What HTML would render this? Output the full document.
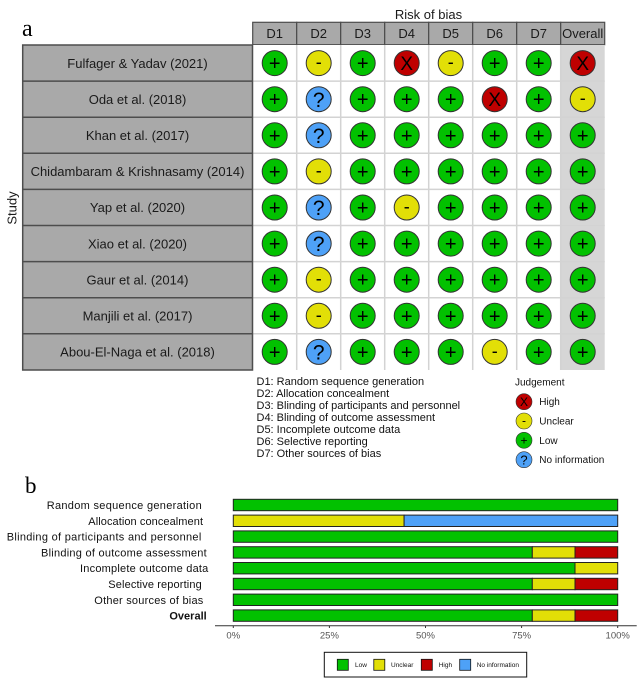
<!DOCTYPE html>
<html><head><meta charset="utf-8"><style>
html,body{margin:0;padding:0;background:#fff;}
svg{display:block;}
text{font-family:"Liberation Sans",sans-serif;}
.g{fill:#02C100;stroke:#333;stroke-width:1}
.y{fill:#E2DF07;stroke:#333;stroke-width:1}
.r{fill:#BF0000;stroke:#333;stroke-width:1}
.b{fill:#4EA1F7;stroke:#333;stroke-width:1}
.p{font-size:20px;text-anchor:middle;fill:#000}
.x{font-size:19px;text-anchor:middle;fill:#000}
.q{font-size:21px;text-anchor:middle;fill:#000}
.m{font-size:18px;text-anchor:middle;fill:#000}
.st{font-size:13px;text-anchor:middle;fill:#1a1a1a}
.hd{font-size:13px;text-anchor:middle;fill:#1a1a1a}
.lg{font-size:11px;fill:#111}
.jl{font-size:10px;fill:#111}
.bl{font-size:11px;text-anchor:end;fill:#111}
.tk{font-size:9.5px;text-anchor:middle;fill:#555}
.kl{font-size:6.5px;fill:#111}
</style></head><body>
<svg width="643" height="683" viewBox="0 0 643 683" xmlns="http://www.w3.org/2000/svg">
<rect width="643" height="683" fill="#fff"/>
<!-- Panel a -->
<text x="22" y="36" style="font-family:'Liberation Serif',serif;font-size:24px" fill="#000">a</text>
<text x="428.5" y="19" style="font-size:13px" text-anchor="middle" fill="#1a1a1a">Risk of bias</text>
<!-- header cells -->
<g fill="#a9a9a9" stroke="#4d4d4d" stroke-width="1.2">
<rect x="252.7" y="22.3" width="44" height="22.4"/>
<rect x="296.7" y="22.3" width="44" height="22.4"/>
<rect x="340.7" y="22.3" width="44" height="22.4"/>
<rect x="384.7" y="22.3" width="44" height="22.4"/>
<rect x="428.7" y="22.3" width="44" height="22.4"/>
<rect x="472.7" y="22.3" width="44" height="22.4"/>
<rect x="516.7" y="22.3" width="44" height="22.4"/>
<rect x="560.7" y="22.3" width="44" height="22.4"/>
</g>
<text class="hd" x="274.7" y="38">D1</text>
<text class="hd" x="318.7" y="38">D2</text>
<text class="hd" x="362.7" y="38">D3</text>
<text class="hd" x="406.7" y="38">D4</text>
<text class="hd" x="450.7" y="38">D5</text>
<text class="hd" x="494.7" y="38">D6</text>
<text class="hd" x="538.7" y="38">D7</text>
<text class="hd" x="582.7" y="38">Overall</text>
<!-- body -->
<rect x="252.7" y="45" width="308" height="325" fill="#fff"/>
<rect x="560.7" y="45" width="44" height="325" fill="#d6d6d6"/>
<g stroke="#d3d3d3" stroke-width="1.5">
<line x1="296.7" y1="45" x2="296.7" y2="370"/>
<line x1="340.7" y1="45" x2="340.7" y2="370"/>
<line x1="384.7" y1="45" x2="384.7" y2="370"/>
<line x1="428.7" y1="45" x2="428.7" y2="370"/>
<line x1="472.7" y1="45" x2="472.7" y2="370"/>
<line x1="516.7" y1="45" x2="516.7" y2="370"/>
<line x1="560.7" y1="45" x2="560.7" y2="370"/>
<line x1="252.7" y1="81.1" x2="604.7" y2="81.1"/>
<line x1="252.7" y1="117.2" x2="604.7" y2="117.2"/>
<line x1="252.7" y1="153.3" x2="604.7" y2="153.3"/>
<line x1="252.7" y1="189.4" x2="604.7" y2="189.4"/>
<line x1="252.7" y1="225.5" x2="604.7" y2="225.5"/>
<line x1="252.7" y1="261.6" x2="604.7" y2="261.6"/>
<line x1="252.7" y1="297.7" x2="604.7" y2="297.7"/>
<line x1="252.7" y1="333.8" x2="604.7" y2="333.8"/>
</g>
<!-- study column -->
<rect x="22.7" y="45" width="229.8" height="325" fill="#a9a9a9" stroke="#4d4d4d" stroke-width="1.5"/>
<g stroke="#4d4d4d" stroke-width="1.5">
<line x1="22.7" y1="81.1" x2="252.5" y2="81.1"/>
<line x1="22.7" y1="117.2" x2="252.5" y2="117.2"/>
<line x1="22.7" y1="153.3" x2="252.5" y2="153.3"/>
<line x1="22.7" y1="189.4" x2="252.5" y2="189.4"/>
<line x1="22.7" y1="225.5" x2="252.5" y2="225.5"/>
<line x1="22.7" y1="261.6" x2="252.5" y2="261.6"/>
<line x1="22.7" y1="297.7" x2="252.5" y2="297.7"/>
<line x1="22.7" y1="333.8" x2="252.5" y2="333.8"/>
</g>
<text class="st" x="137.5" y="67.8">Fulfager &amp; Yadav (2021)</text>
<text class="st" x="137.5" y="103.9">Oda et al. (2018)</text>
<text class="st" x="137.5" y="140">Khan et al. (2017)</text>
<text class="st" x="137.5" y="176.1">Chidambaram &amp; Krishnasamy (2014)</text>
<text class="st" x="137.5" y="212.2">Yap et al. (2020)</text>
<text class="st" x="137.5" y="248.3">Xiao et al. (2020)</text>
<text class="st" x="137.5" y="284.4">Gaur et al. (2014)</text>
<text class="st" x="137.5" y="320.5">Manjili et al. (2017)</text>
<text class="st" x="137.5" y="356.6">Abou-El-Naga et al. (2018)</text>
<text x="0" y="0" transform="translate(16.5,208) rotate(-90)" style="font-size:13px" text-anchor="middle" fill="#1a1a1a">Study</text>

<!-- Row 0: G Y G R Y G G R -->
<circle class="g" cx="274.7" cy="63.1" r="12.5"/><text class="p" x="274.7" y="70.1">+</text>
<circle class="y" cx="318.7" cy="63.1" r="12.5"/><text class="m" x="318.7" y="68.1">-</text>
<circle class="g" cx="362.7" cy="63.1" r="12.5"/><text class="p" x="362.7" y="70.1">+</text>
<circle class="r" cx="406.7" cy="63.1" r="12.5"/><text class="x" x="406.7" y="69.9">X</text>
<circle class="y" cx="450.7" cy="63.1" r="12.5"/><text class="m" x="450.7" y="68.1">-</text>
<circle class="g" cx="494.7" cy="63.1" r="12.5"/><text class="p" x="494.7" y="70.1">+</text>
<circle class="g" cx="538.7" cy="63.1" r="12.5"/><text class="p" x="538.7" y="70.1">+</text>
<circle class="r" cx="582.7" cy="63.1" r="12.5"/><text class="x" x="582.7" y="69.9">X</text>
<!-- Row 1: G B G G G R G Y -->
<circle class="g" cx="274.7" cy="99.2" r="12.5"/><text class="p" x="274.7" y="106.2">+</text>
<circle class="b" cx="318.7" cy="99.2" r="12.5"/><text class="q" x="318.7" y="106.8">?</text>
<circle class="g" cx="362.7" cy="99.2" r="12.5"/><text class="p" x="362.7" y="106.2">+</text>
<circle class="g" cx="406.7" cy="99.2" r="12.5"/><text class="p" x="406.7" y="106.2">+</text>
<circle class="g" cx="450.7" cy="99.2" r="12.5"/><text class="p" x="450.7" y="106.2">+</text>
<circle class="r" cx="494.7" cy="99.2" r="12.5"/><text class="x" x="494.7" y="106">X</text>
<circle class="g" cx="538.7" cy="99.2" r="12.5"/><text class="p" x="538.7" y="106.2">+</text>
<circle class="y" cx="582.7" cy="99.2" r="12.5"/><text class="m" x="582.7" y="104.2">-</text>
<!-- Row 2: G B G G G G G G -->
<circle class="g" cx="274.7" cy="135.3" r="12.5"/><text class="p" x="274.7" y="142.3">+</text>
<circle class="b" cx="318.7" cy="135.3" r="12.5"/><text class="q" x="318.7" y="142.9">?</text>
<circle class="g" cx="362.7" cy="135.3" r="12.5"/><text class="p" x="362.7" y="142.3">+</text>
<circle class="g" cx="406.7" cy="135.3" r="12.5"/><text class="p" x="406.7" y="142.3">+</text>
<circle class="g" cx="450.7" cy="135.3" r="12.5"/><text class="p" x="450.7" y="142.3">+</text>
<circle class="g" cx="494.7" cy="135.3" r="12.5"/><text class="p" x="494.7" y="142.3">+</text>
<circle class="g" cx="538.7" cy="135.3" r="12.5"/><text class="p" x="538.7" y="142.3">+</text>
<circle class="g" cx="582.7" cy="135.3" r="12.5"/><text class="p" x="582.7" y="142.3">+</text>
<!-- Row 3: G Y G G G G G G -->
<circle class="g" cx="274.7" cy="171.4" r="12.5"/><text class="p" x="274.7" y="178.4">+</text>
<circle class="y" cx="318.7" cy="171.4" r="12.5"/><text class="m" x="318.7" y="176.4">-</text>
<circle class="g" cx="362.7" cy="171.4" r="12.5"/><text class="p" x="362.7" y="178.4">+</text>
<circle class="g" cx="406.7" cy="171.4" r="12.5"/><text class="p" x="406.7" y="178.4">+</text>
<circle class="g" cx="450.7" cy="171.4" r="12.5"/><text class="p" x="450.7" y="178.4">+</text>
<circle class="g" cx="494.7" cy="171.4" r="12.5"/><text class="p" x="494.7" y="178.4">+</text>
<circle class="g" cx="538.7" cy="171.4" r="12.5"/><text class="p" x="538.7" y="178.4">+</text>
<circle class="g" cx="582.7" cy="171.4" r="12.5"/><text class="p" x="582.7" y="178.4">+</text>
<!-- Row 4: G B G Y G G G G -->
<circle class="g" cx="274.7" cy="207.5" r="12.5"/><text class="p" x="274.7" y="214.5">+</text>
<circle class="b" cx="318.7" cy="207.5" r="12.5"/><text class="q" x="318.7" y="215.1">?</text>
<circle class="g" cx="362.7" cy="207.5" r="12.5"/><text class="p" x="362.7" y="214.5">+</text>
<circle class="y" cx="406.7" cy="207.5" r="12.5"/><text class="m" x="406.7" y="212.5">-</text>
<circle class="g" cx="450.7" cy="207.5" r="12.5"/><text class="p" x="450.7" y="214.5">+</text>
<circle class="g" cx="494.7" cy="207.5" r="12.5"/><text class="p" x="494.7" y="214.5">+</text>
<circle class="g" cx="538.7" cy="207.5" r="12.5"/><text class="p" x="538.7" y="214.5">+</text>
<circle class="g" cx="582.7" cy="207.5" r="12.5"/><text class="p" x="582.7" y="214.5">+</text>
<!-- Row 5: G B G G G G G G -->
<circle class="g" cx="274.7" cy="243.6" r="12.5"/><text class="p" x="274.7" y="250.6">+</text>
<circle class="b" cx="318.7" cy="243.6" r="12.5"/><text class="q" x="318.7" y="251.2">?</text>
<circle class="g" cx="362.7" cy="243.6" r="12.5"/><text class="p" x="362.7" y="250.6">+</text>
<circle class="g" cx="406.7" cy="243.6" r="12.5"/><text class="p" x="406.7" y="250.6">+</text>
<circle class="g" cx="450.7" cy="243.6" r="12.5"/><text class="p" x="450.7" y="250.6">+</text>
<circle class="g" cx="494.7" cy="243.6" r="12.5"/><text class="p" x="494.7" y="250.6">+</text>
<circle class="g" cx="538.7" cy="243.6" r="12.5"/><text class="p" x="538.7" y="250.6">+</text>
<circle class="g" cx="582.7" cy="243.6" r="12.5"/><text class="p" x="582.7" y="250.6">+</text>
<!-- Row 6: G Y G G G G G G -->
<circle class="g" cx="274.7" cy="279.7" r="12.5"/><text class="p" x="274.7" y="286.7">+</text>
<circle class="y" cx="318.7" cy="279.7" r="12.5"/><text class="m" x="318.7" y="284.7">-</text>
<circle class="g" cx="362.7" cy="279.7" r="12.5"/><text class="p" x="362.7" y="286.7">+</text>
<circle class="g" cx="406.7" cy="279.7" r="12.5"/><text class="p" x="406.7" y="286.7">+</text>
<circle class="g" cx="450.7" cy="279.7" r="12.5"/><text class="p" x="450.7" y="286.7">+</text>
<circle class="g" cx="494.7" cy="279.7" r="12.5"/><text class="p" x="494.7" y="286.7">+</text>
<circle class="g" cx="538.7" cy="279.7" r="12.5"/><text class="p" x="538.7" y="286.7">+</text>
<circle class="g" cx="582.7" cy="279.7" r="12.5"/><text class="p" x="582.7" y="286.7">+</text>
<!-- Row 7: G Y G G G G G G -->
<circle class="g" cx="274.7" cy="315.8" r="12.5"/><text class="p" x="274.7" y="322.8">+</text>
<circle class="y" cx="318.7" cy="315.8" r="12.5"/><text class="m" x="318.7" y="320.8">-</text>
<circle class="g" cx="362.7" cy="315.8" r="12.5"/><text class="p" x="362.7" y="322.8">+</text>
<circle class="g" cx="406.7" cy="315.8" r="12.5"/><text class="p" x="406.7" y="322.8">+</text>
<circle class="g" cx="450.7" cy="315.8" r="12.5"/><text class="p" x="450.7" y="322.8">+</text>
<circle class="g" cx="494.7" cy="315.8" r="12.5"/><text class="p" x="494.7" y="322.8">+</text>
<circle class="g" cx="538.7" cy="315.8" r="12.5"/><text class="p" x="538.7" y="322.8">+</text>
<circle class="g" cx="582.7" cy="315.8" r="12.5"/><text class="p" x="582.7" y="322.8">+</text>
<!-- Row 8: G B G G G Y G G -->
<circle class="g" cx="274.7" cy="351.9" r="12.5"/><text class="p" x="274.7" y="358.9">+</text>
<circle class="b" cx="318.7" cy="351.9" r="12.5"/><text class="q" x="318.7" y="359.5">?</text>
<circle class="g" cx="362.7" cy="351.9" r="12.5"/><text class="p" x="362.7" y="358.9">+</text>
<circle class="g" cx="406.7" cy="351.9" r="12.5"/><text class="p" x="406.7" y="358.9">+</text>
<circle class="g" cx="450.7" cy="351.9" r="12.5"/><text class="p" x="450.7" y="358.9">+</text>
<circle class="y" cx="494.7" cy="351.9" r="12.5"/><text class="m" x="494.7" y="356.9">-</text>
<circle class="g" cx="538.7" cy="351.9" r="12.5"/><text class="p" x="538.7" y="358.9">+</text>
<circle class="g" cx="582.7" cy="351.9" r="12.5"/><text class="p" x="582.7" y="358.9">+</text>

<!-- domain legend -->
<text class="lg" x="256.5" y="385">D1: Random sequence generation</text>
<text class="lg" x="256.5" y="397">D2: Allocation concealment</text>
<text class="lg" x="256.5" y="409">D3: Blinding of participants and personnel</text>
<text class="lg" x="256.5" y="421">D4: Blinding of outcome assessment</text>
<text class="lg" x="256.5" y="433">D5: Incomplete outcome data</text>
<text class="lg" x="256.5" y="445">D6: Selective reporting</text>
<text class="lg" x="256.5" y="457">D7: Other sources of bias</text>
<!-- judgement legend -->
<text class="jl" x="515" y="385.5">Judgement</text>
<circle class="r" cx="524" cy="401.7" r="8" style="stroke-width:0.6"/><text x="524" y="406.2" text-anchor="middle" style="font-size:12px">X</text>
<text class="jl" x="539.3" y="405.2">High</text>
<circle class="y" cx="524" cy="421" r="8" style="stroke-width:0.6"/><text x="524" y="424.5" text-anchor="middle" style="font-size:12px">-</text>
<text class="jl" x="539.3" y="424.5">Unclear</text>
<circle class="g" cx="524" cy="440.3" r="8" style="stroke-width:0.6"/><text x="524" y="444.7" text-anchor="middle" style="font-size:12px">+</text>
<text class="jl" x="539.3" y="443.8">Low</text>
<circle class="b" cx="524" cy="459.7" r="8" style="stroke-width:0.6"/><text x="524" y="464.5" text-anchor="middle" style="font-size:13px">?</text>
<text class="jl" x="539.3" y="463.2">No information</text>

<!-- Panel b -->
<text x="25" y="493" style="font-family:'Liberation Serif',serif;font-size:23px" fill="#000">b</text>
<text class="bl" x="201.7" y="509" textLength="155" lengthAdjust="spacing">Random sequence generation</text>
<text class="bl" x="203" y="524.8" textLength="114.7" lengthAdjust="spacing">Allocation concealment</text>
<text class="bl" x="201.3" y="540.6" textLength="194.6" lengthAdjust="spacing">Blinding of participants and personnel</text>
<text class="bl" x="206.7" y="556.4" textLength="165.7" lengthAdjust="spacing">Blinding of outcome assessment</text>
<text class="bl" x="208.3" y="572.2" textLength="128.3" lengthAdjust="spacing">Incomplete outcome data</text>
<text class="bl" x="201.7" y="588" textLength="93.4" lengthAdjust="spacing">Selective reporting</text>
<text class="bl" x="203.3" y="603.8" textLength="109" lengthAdjust="spacing">Other sources of bias</text>
<text class="bl" x="206.7" y="619.6" style="font-weight:bold">Overall</text>

<g stroke="#222" stroke-width="1">
<!-- D1 -->
<rect x="233.3" y="499.3" width="384.4" height="11.4" fill="#02C100"/>
<!-- D2 -->
<rect x="233.3" y="515.1" width="170.8" height="11.4" fill="#E2DF07"/>
<rect x="404.1" y="515.1" width="213.6" height="11.4" fill="#4EA1F7"/>
<!-- D3 -->
<rect x="233.3" y="530.9" width="384.4" height="11.4" fill="#02C100"/>
<!-- D4 -->
<rect x="233.3" y="546.7" width="299" height="11.4" fill="#02C100"/>
<rect x="532.3" y="546.7" width="42.7" height="11.4" fill="#E2DF07"/>
<rect x="575" y="546.7" width="42.7" height="11.4" fill="#BF0000"/>
<!-- D5 -->
<rect x="233.3" y="562.5" width="341.7" height="11.4" fill="#02C100"/>
<rect x="575" y="562.5" width="42.7" height="11.4" fill="#E2DF07"/>
<!-- D6 -->
<rect x="233.3" y="578.3" width="299" height="11.4" fill="#02C100"/>
<rect x="532.3" y="578.3" width="42.7" height="11.4" fill="#E2DF07"/>
<rect x="575" y="578.3" width="42.7" height="11.4" fill="#BF0000"/>
<!-- D7 -->
<rect x="233.3" y="594.1" width="384.4" height="11.4" fill="#02C100"/>
<!-- Overall -->
<rect x="233.3" y="609.9" width="299" height="11.4" fill="#02C100"/>
<rect x="532.3" y="609.9" width="42.7" height="11.4" fill="#E2DF07"/>
<rect x="575" y="609.9" width="42.7" height="11.4" fill="#BF0000"/>
</g>
<!-- axis -->
<line x1="215" y1="625.7" x2="636.7" y2="625.7" stroke="#333" stroke-width="1"/>
<g stroke="#333" stroke-width="1">
<line x1="233.3" y1="625.7" x2="233.3" y2="628"/>
<line x1="329.4" y1="625.7" x2="329.4" y2="628"/>
<line x1="425.5" y1="625.7" x2="425.5" y2="628"/>
<line x1="521.6" y1="625.7" x2="521.6" y2="628"/>
<line x1="617.7" y1="625.7" x2="617.7" y2="628"/>
</g>
<text class="tk" x="233.3" y="638.5">0%</text>
<text class="tk" x="329.4" y="638.5">25%</text>
<text class="tk" x="425.5" y="638.5">50%</text>
<text class="tk" x="521.6" y="638.5">75%</text>
<text class="tk" x="617.7" y="638.5">100%</text>
<!-- bottom legend -->
<rect x="324.3" y="652.3" width="202.4" height="24.7" fill="#fff" stroke="#111" stroke-width="1"/>
<rect x="337.3" y="659.3" width="11" height="11" fill="#02C100" stroke="#111" stroke-width="0.8"/>
<text class="kl" x="355" y="667">Low</text>
<rect x="373.8" y="659.3" width="11" height="11" fill="#E2DF07" stroke="#111" stroke-width="0.8"/>
<text class="kl" x="391" y="667">Unclear</text>
<rect x="421.3" y="659.3" width="11" height="11" fill="#BF0000" stroke="#111" stroke-width="0.8"/>
<text class="kl" x="438.7" y="667">High</text>
<rect x="459.7" y="659.3" width="11" height="11" fill="#4EA1F7" stroke="#111" stroke-width="0.8"/>
<text class="kl" x="476.7" y="667">No information</text>
</svg>
</body></html>
